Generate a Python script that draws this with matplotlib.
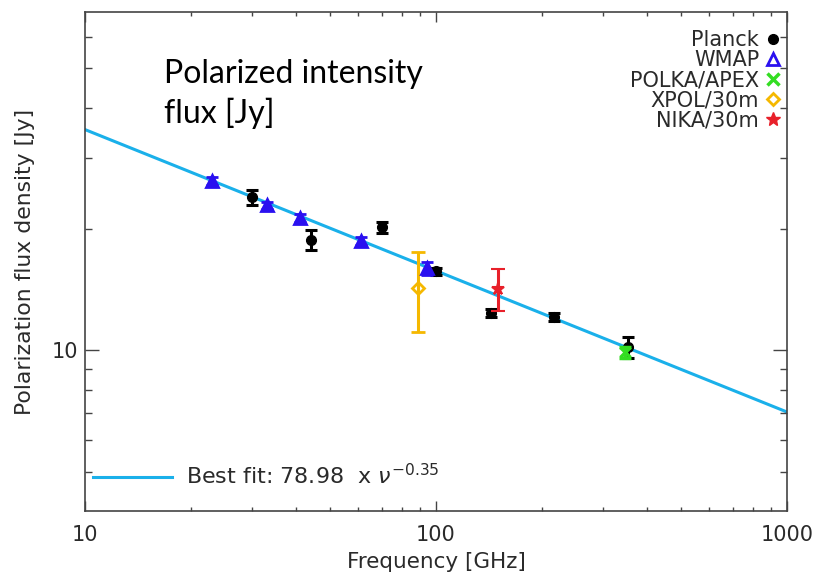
import numpy as np
import matplotlib
matplotlib.use('Agg')
import matplotlib.pyplot as plt
from matplotlib.lines import Line2D
from matplotlib.ticker import FixedLocator, NullFormatter, FixedFormatter

# data (GHz, Jy)
planck_freq = [30, 44, 70, 100, 143, 217, 353]
planck_flux = [24.0, 18.8, 20.2, 15.7, 12.4, 12.1, 10.2]
planck_err = [1.0, 1.1, 0.6, 0.3, 0.3, 0.25, 0.6]

wmap_freq = [23, 33, 41, 61, 94]
wmap_flux = [26.3, 22.9, 21.3, 18.7, 16.0]
wmap_err = [0.6, 0.5, 0.5, 0.4, 0.6]

polka_freq = [345]
polka_flux = [9.9]
polka_err = [0.3]

xpol_freq = [89]
xpol_flux = [14.3]
xpol_err = [3.2]

nika_freq = [150]
nika_flux = [14.2]
nika_err = [1.7]

fit_amp = 78.98
fit_index = -0.35

plt.rcParams['font.family'] = ['DejaVu Sans']
fig = plt.figure(figsize=(8.15, 5.76), dpi=100)
ax = fig.add_axes([0.1043, 0.1128, 0.8613, 0.8663])

nu = np.logspace(1, 3, 200)
ax.plot(nu, fit_amp * nu ** fit_index, color='#1ab0ea', lw=2.2, zorder=1)

ax.errorbar(planck_freq, planck_flux, yerr=planck_err, fmt='o', color='black',
            ms=7, elinewidth=2.2, capsize=4, capthick=2.2, zorder=3)
ax.errorbar(wmap_freq, wmap_flux, yerr=wmap_err, fmt='^', color='#2a10f0', mfc='#2a10f0',
            mec='#2a10f0', ms=8, mew=2, elinewidth=2.2, capsize=4, capthick=2.2, zorder=4)
ax.errorbar(polka_freq, polka_flux, yerr=polka_err, fmt='x', color='#33dd22',
            ms=7, mew=2.5, elinewidth=2.2, capsize=4, capthick=2.2, zorder=4)
ax.errorbar(xpol_freq, xpol_flux, yerr=xpol_err, fmt='D', color='#f5b800', mfc='none',
            ms=6, mew=2, elinewidth=2.2, capsize=5, capthick=2.2, zorder=4)
ax.errorbar(nika_freq, nika_flux, yerr=nika_err, fmt='*', color='#e8202a',
            ms=9, mew=1.5, elinewidth=2.2, capsize=5, capthick=2.2, zorder=4)

ax.set_xscale('log')
ax.set_yscale('log')
ax.set_xlim(10, 1000)
ax.set_ylim(4.0, 69)

ax.xaxis.set_major_locator(FixedLocator([10, 100, 1000]))
ax.xaxis.set_major_formatter(FixedFormatter(['10', '100', '1000']))
ax.xaxis.set_minor_locator(FixedLocator([20, 30, 40, 50, 60, 70, 80, 90,
                                         200, 300, 400, 500, 600, 700, 800, 900]))
ax.xaxis.set_minor_formatter(NullFormatter())
ax.yaxis.set_major_locator(FixedLocator([10]))
ax.yaxis.set_major_formatter(FixedFormatter(['10']))
ax.yaxis.set_minor_locator(FixedLocator([5, 6, 7, 8, 9, 20, 30, 40, 50, 60]))
ax.yaxis.set_minor_formatter(NullFormatter())

ax.tick_params(axis='both', which='both', direction='in', top=True, right=True,
               color='#444444', width=1, labelsize=15, labelcolor='#2a2a2a')
ax.tick_params(axis='x', which='major', length=7, pad=10)
ax.tick_params(axis='x', which='minor', length=3)
ax.tick_params(axis='y', which='major', length=10, pad=5)
ax.tick_params(axis='y', which='minor', length=5)
for s in ax.spines.values():
    s.set_color('#444444')
    s.set_linewidth(1.2)

ax.set_xlabel('Frequency [GHz]', fontsize=15.5, color='#2a2a2a', labelpad=5)
ax.set_ylabel('Polarization flux density [Jy]', fontsize=15.75, color='#2a2a2a', labelpad=12)

# point legend, top right
handles = [
    Line2D([], [], ls='none', marker='o', color='black', ms=7),
    Line2D([], [], ls='none', marker='^', mfc='none', mec='#2a10f0', mew=2, ms=8),
    Line2D([], [], ls='none', marker='x', color='#33dd22', mew=2.5, ms=8),
    Line2D([], [], ls='none', marker='D', mfc='none', mec='#f5b800', mew=2, ms=6),
    Line2D([], [], ls='none', marker='*', color='#e8202a', ms=10),
]
labels = ['Planck', 'WMAP', 'POLKA/APEX', 'XPOL/30m', 'NIKA/30m']
leg = ax.legend(handles, labels, loc='upper right', bbox_to_anchor=(1.005, 0.984),
                markerfirst=False, frameon=False, fontsize=15, handlelength=0.7,
                handletextpad=0.3, labelspacing=0.0, borderpad=0, labelcolor='#2a2a2a')
ax.add_artist(leg)

fit_handle = [Line2D([], [], color='#1ab0ea', lw=2.2)]
ax.legend(fit_handle, ['Best fit: 78.98  x $\\nu^{-0.35}$'], loc='lower left',
          bbox_to_anchor=(-0.004, 0.023), frameon=False, fontsize=16, handlelength=3.55,
          handletextpad=0.63, borderpad=0, labelcolor='#2a2a2a')

ax.text(0.112, 0.905, 'Polarized intensity\nflux [Jy]', transform=ax.transAxes,
        fontsize=23, family=['Lato', 'DejaVu Sans'], color='black',
        va='top', ha='left', linespacing=1.32)

fig.savefig('out.png', dpi=100)
